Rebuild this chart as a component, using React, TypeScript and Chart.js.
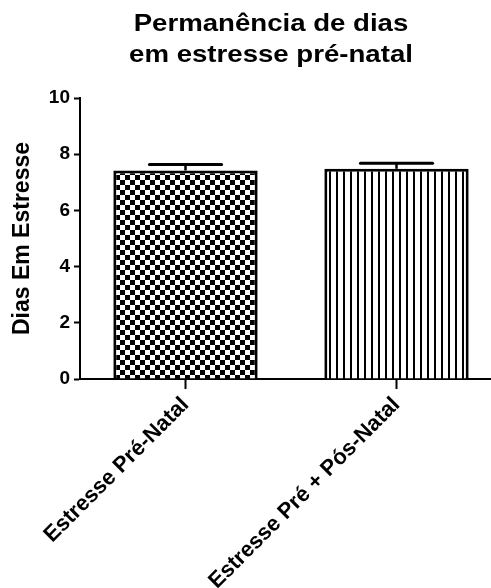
import React, { useEffect, useRef } from "react";
import { Chart, registerables } from "chart.js";

Chart.register(...registerables);

// Group names, mean days in stress and standard error for each group
const groups = ["Estresse Pré-Natal", "Estresse Pré + Pós-Natal"];
const meanDays = [7.42, 7.48];
const semDays = [0.21, 0.2];

const yTicks = [0, 2, 4, 6, 8, 10];
const titleLines = ["Permanência de dias", "em estresse pré-natal"];
const yTitle = "Dias Em Estresse";

const FONT = "'Liberation Sans', Arial, Helvetica, sans-serif";

function makeChecker(): CanvasPattern | string {
  const c = document.createElement("canvas");
  const cell = 5;
  c.width = cell * 2;
  c.height = cell * 2;
  const g = c.getContext("2d");
  if (!g) return "#000";
  g.fillStyle = "#fff";
  g.fillRect(0, 0, c.width, c.height);
  g.fillStyle = "#000";
  g.fillRect(0, 0, cell, cell);
  g.fillRect(cell, cell, cell, cell);
  return g.createPattern(c, "repeat") || "#000";
}

function makeStripes(): CanvasPattern | string {
  const c = document.createElement("canvas");
  c.width = 7;
  c.height = 7;
  const g = c.getContext("2d");
  if (!g) return "#000";
  g.fillStyle = "#fff";
  g.fillRect(0, 0, 7, 7);
  g.fillStyle = "#000";
  g.fillRect(0, 0, 2, 7);
  return g.createPattern(c, "repeat") || "#000";
}

// Up-only error bars with a cap half as wide as the bar
const errorBars = {
  id: "errorBars",
  afterDatasetsDraw(chart: any) {
    const meta = chart.getDatasetMeta(0);
    const yScale = chart.scales.y;
    const ctx = chart.ctx;
    ctx.save();
    ctx.strokeStyle = "#000";
    meta.data.forEach((bar: any, i: number) => {
      const top = yScale.getPixelForValue(meanDays[i] + semDays[i]);
      const base = yScale.getPixelForValue(meanDays[i]);
      const half = bar.width / 4;
      ctx.lineCap = "butt";
      ctx.lineWidth = 2.5;
      ctx.beginPath();
      ctx.moveTo(bar.x, base);
      ctx.lineTo(bar.x, top);
      ctx.stroke();
      ctx.lineCap = "round";
      ctx.lineWidth = 3;
      ctx.beginPath();
      ctx.moveTo(bar.x - half, top);
      ctx.lineTo(bar.x + half, top);
      ctx.stroke();
    });
    ctx.restore();
  },
};

// Two-line heading, drawn slightly wide
const heading = {
  id: "heading",
  afterDraw(chart: any) {
    const ctx = chart.ctx;
    ctx.save();
    ctx.fillStyle = "#000";
    ctx.font = `bold 24px ${FONT}`;
    ctx.textAlign = "center";
    ctx.textBaseline = "alphabetic";
    const cx = 271;
    const baselines = [31, 61.5];
    titleLines.forEach((line, i) => {
      ctx.save();
      ctx.translate(cx, baselines[i]);
      ctx.scale(1.15, 1);
      ctx.fillText(line, 0, 0);
      ctx.restore();
    });
    ctx.restore();
  },
};

export default function App() {
  const ref = useRef<HTMLCanvasElement>(null);

  useEffect(() => {
    if (!ref.current) return;
    const chart = new Chart(ref.current, {
      type: "bar",
      data: {
        labels: groups,
        datasets: [
          {
            data: meanDays,
            backgroundColor: [makeChecker(), makeStripes()] as any,
            borderColor: "#000",
            borderWidth: 3,
            borderSkipped: "bottom",
            categoryPercentage: 1,
            barPercentage: 0.684,
          },
        ],
      },
      options: {
        animation: false,
        responsive: false,
        devicePixelRatio: 1,
        layout: { padding: { top: 98, left: 0, right: 0, bottom: 0 }, autoPadding: false } as any,
        plugins: {
          legend: { display: false },
          tooltip: { enabled: false },
        },
        scales: {
          x: {
            afterFit: (s: any) => {
              s.height = 209;
            },
            grid: {
              display: true,
              drawOnChartArea: false,
              offset: false,
              tickLength: 10,
              tickWidth: 2,
              color: "#000",
            },
            border: { display: true, color: "#000", width: 2 },
            ticks: {
              color: "#000",
              font: { family: FONT, size: 22, weight: "bold" },
              minRotation: 45,
              maxRotation: 45,
              padding: 3,
              autoSkip: false,
            },
          },
          y: {
            min: 0,
            max: 10,
            afterFit: (s: any) => {
              s.width = 80;
            },
            afterBuildTicks: (s: any) => {
              s.ticks = yTicks.map((v) => ({ value: v }));
            },
            grid: {
              display: true,
              drawOnChartArea: false,
              tickLength: 6,
              tickWidth: 2,
              color: "#000",
            },
            border: { display: true, color: "#000", width: 2 },
            ticks: {
              color: "#000",
              font: { family: FONT, size: 19, weight: "bold" },
              padding: 4,
            },
            title: {
              display: true,
              text: yTitle,
              color: "#000",
              font: { family: FONT, size: 23, weight: "bold" },
              padding: { top: 9, bottom: 0 },
            },
          },
        },
      },
      plugins: [errorBars, heading],
    });
    return () => chart.destroy();
  }, []);

  return (
    <div
      style={{
        position: "fixed",
        left: 0,
        top: 0,
        width: 491,
        height: 588,
        overflow: "hidden",
        background: "#fff",
      }}
    >
      <canvas ref={ref} width={502} height={588} style={{ display: "block" }} />
    </div>
  );
}
